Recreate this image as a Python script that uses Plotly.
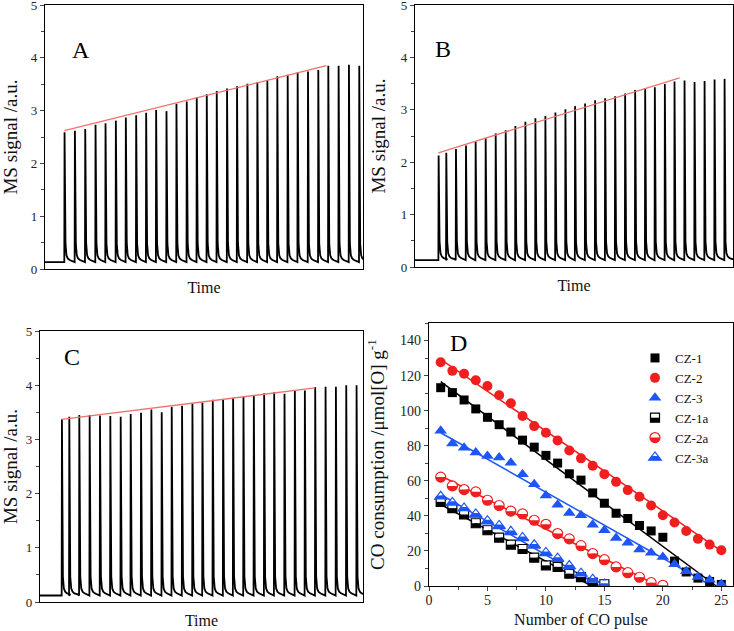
import math
import plotly.graph_objects as go

# ---------------- data: panels A-C (pulse times in arbitrary time units, peak heights) ----------
a_times = [6.07, 9.32, 12.57, 15.81, 18.95, 22.20, 25.34, 28.59, 31.73, 34.87, 38.12, 41.26, 44.50,
           47.64, 50.79, 53.93, 57.17, 60.31, 63.56, 66.70, 69.84, 72.98, 76.23, 79.37, 82.62, 85.86,
           89.01, 92.25, 95.50, 98.74]
a_peaks = [2.59, 2.62, 2.65, 2.73, 2.76, 2.81, 2.87, 2.91, 2.96, 3.01, 2.99, 3.13, 3.17, 3.25, 3.31,
           3.37, 3.42, 3.46, 3.51, 3.54, 3.58, 3.65, 3.68, 3.72, 3.74, 3.77, 3.85, 3.85, 3.87, 3.85]
a_trend_x = [6.07, 88.48]
a_trend_y = [2.62, 3.85]
a_base = 0.13

b_times = [7.35, 9.76, 12.80, 15.95, 18.99, 22.14, 25.29, 28.44, 31.48, 34.63, 37.78, 40.92, 44.07,
           47.22, 50.26, 53.41, 56.56, 59.71, 62.85, 66.00, 69.15, 72.30, 75.34, 78.49, 81.53, 84.68,
           87.83, 90.98, 94.12, 97.27]
b_peaks = [2.13, 2.18, 2.25, 2.32, 2.39, 2.46, 2.55, 2.61, 2.69, 2.77, 2.84, 2.88, 2.95, 3.01, 3.07,
           3.12, 3.18, 3.22, 3.26, 3.31, 3.38, 3.41, 3.43, 3.49, 3.54, 3.56, 3.53, 3.55, 3.58, 3.59]
b_trend_x = [7.35, 83.21]
b_trend_y = [2.18, 3.61]
b_base = 0.13

c_times = [6.71, 8.99, 12.09, 15.29, 18.49, 21.69, 24.90, 28.00, 31.20, 34.40, 37.60, 40.70, 43.90,
           47.11, 50.21, 53.41, 56.61, 59.71, 62.91, 66.12, 69.32, 72.42, 75.62, 78.82, 81.92, 85.12,
           88.33, 91.53, 94.73, 97.93]
c_peaks = [3.37, 3.42, 3.45, 3.45, 3.44, 3.43, 3.42, 3.47, 3.49, 3.55, 3.50, 3.60, 3.62, 3.66, 3.68,
           3.73, 3.74, 3.77, 3.79, 3.81, 3.85, 3.87, 3.84, 3.90, 3.90, 3.96, 3.97, 3.97, 4.00, 4.00]
c_trend_x = [6.71, 85.12]
c_trend_y = [3.37, 3.95]
c_base = 0.12

# ---------------- data: panel D --------------------------------------------------------------
pulse_25 = list(range(1, 26))
pulse_20 = list(range(1, 21))
pulse_15 = list(range(1, 16))
cz1 = [113.1, 110.3, 106.1, 101.0, 96.2, 92.0, 87.8, 83.2, 79.2, 74.5, 70.1, 64.0, 60.4, 53.1, 47.2,
       41.5, 38.5, 34.5, 31.4, 27.8, 14.2, 8.0, 4.5, 2.6, 0.9]
cz2 = [127.6, 122.7, 121.1, 117.3, 114.1, 108.8, 104.2, 97.0, 91.2, 87.4, 83.0, 77.3, 72.8, 68.6, 63.8,
       59.4, 54.7, 50.9, 45.9, 40.4, 36.2, 31.4, 26.9, 23.6, 20.4]
cz3 = [88.6, 81.3, 78.9, 76.2, 74.1, 73.3, 70.3, 63.8, 58.1, 51.6, 46.3, 41.7, 40.4, 35.0, 31.8,
       27.4, 24.6, 20.8, 18.9, 16.6, 12.4, 8.4, 5.1, 3.6, 1.1]
cz1a = [48.0, 44.4, 40.8, 35.8, 31.8, 27.6, 23.6, 21.1, 16.2, 11.8, 10.9, 7.0, 5.1, 1.9, 1.0]
cz2a = [62.1, 57.1, 55.0, 53.7, 48.9, 45.9, 42.7, 41.1, 37.5, 35.2, 29.9, 26.9, 23.0, 18.5, 15.0,
        10.9, 7.6, 5.0, 1.9, 0.4]
cz3a = [50.9, 47.4, 44.2, 40.8, 37.0, 34.3, 30.9, 27.4, 23.2, 18.9, 15.6, 11.4, 7.0, 3.6, 0.8]

fit_cz1 = ([1, 24.57], [116.6, 0])
fit_cz2 = ([1, 25], [129.3, 20.0])
fit_cz3 = ([1, 24.2], [87.4, 0])
fit_cz1a = ([1, 13.9], [46.5, 0])
fit_cz2a = ([1, 19.6], [62.9, 0])
fit_cz3a = ([1, 14.6], [52.2, 0])

# ---------------- styling ----------------------------------------------------------------
FONT = "Liberation Serif"
BLACK = "#000000"
RED = "#f01e1e"
BLUE = "#1e55f5"
TREND = "#f07070"
W, H = 734, 631

# decay profile of a pulse (time offset, height above baseline)
DECAY = [(0.3, 0.35), (0.6, 0.13), (1.0, 0.07), (1.6, 0.04), (2.6, 0.02)]


def pulse_curve(times, peaks, base, xend):
    xs, ys = [0.0], [base]
    for t, p in zip(times, peaks):
        xs += [t, t + 0.08]
        ys += [base, p]
        for dt, v in DECAY:
            xs.append(t + 0.08 + dt)
            ys.append(base + v)
    xs.append(xend)
    ys.append(base + 0.03)
    return xs, ys


fig = go.Figure()

panels = [
    ("x", "y", a_times, a_peaks, a_base, a_trend_x, a_trend_y),
    ("x2", "y2", b_times, b_peaks, b_base, b_trend_x, b_trend_y),
    ("x3", "y3", c_times, c_peaks, c_base, c_trend_x, c_trend_y),
]
for xa, ya, tt, pp, bb, tx, ty in panels:
    xs, ys = pulse_curve(tt, pp, bb, 100)
    fig.add_trace(go.Scatter(x=xs, y=ys, mode="lines", xaxis=xa, yaxis=ya, showlegend=False,
                             line=dict(color=BLACK, width=1.8), hoverinfo="skip"))
    fig.add_trace(go.Scatter(x=tx, y=ty, mode="lines", xaxis=xa, yaxis=ya, showlegend=False,
                             line=dict(color=TREND, width=1.3), hoverinfo="skip"))

# panel D fits
for (fx, fy), col in [(fit_cz1, BLACK), (fit_cz2, RED), (fit_cz3, BLUE),
                      (fit_cz1a, BLACK), (fit_cz2a, RED), (fit_cz3a, BLUE)]:
    fig.add_trace(go.Scatter(x=fx, y=fy, mode="lines", xaxis="x4", yaxis="y4", showlegend=False,
                             line=dict(color=col, width=1.5), hoverinfo="skip"))

series = [
    ("CZ-1", pulse_25, cz1, "square", BLACK, 9, False),
    ("CZ-2", pulse_25, cz2, "circle", RED, 10, False),
    ("CZ-3", pulse_25, cz3, "triangle-up", BLUE, 11, False),
    ("CZ-1a", pulse_15, cz1a, "square", BLACK, 9, True),
    ("CZ-2a", pulse_20, cz2a, "circle", RED, 10, True),
    ("CZ-3a", pulse_15, cz3a, "triangle-up", BLUE, 11, True),
]

# legend geometry (pixels): left edge, top edge, first-item offset, item pitch
LEG_LEFT, LEG_TOP, LEG_FIRST, LEG_PITCH = 635, 343, 15, 19.9


def half_path(sym, r, upper=False, inset=0.0):
    """Lower (or upper) half of a marker outline, in pixels relative to its centre (y up)."""
    s = 1 if upper else -1
    if sym == "square":
        a = r - inset
        return f"M{-a:.2f},{s * a:.2f} L{a:.2f},{s * a:.2f} L{a:.2f},0 L{-a:.2f},0 Z"
    if sym == "circle":
        a = r - inset
        pts = [(a * math.cos(math.pi + k * math.pi / 12), -s * a * math.sin(math.pi + k * math.pi / 12))
               for k in range(13)]
        return "M" + " L".join(f"{px:.2f},{py:.2f}" for px, py in pts) + " Z"
    rt = r * 2 / math.sqrt(3)
    if upper:
        return (f"M{-rt/2 + inset:.2f},{r/4:.2f} L{rt/2 - inset:.2f},{r/4:.2f} "
                f"L0,{r - 2 * inset:.2f} Z")
    return (f"M{-rt:.2f},{-r/2:.2f} L{rt:.2f},{-r/2:.2f} "
            f"L{rt/2:.2f},{r/4:.2f} L{-rt/2:.2f},{r/4:.2f} Z")


shapes = []
for idx, (name, xs, ys, sym, col, size, half) in enumerate(series):
    if half:
        marker = dict(symbol=sym, size=size, color="rgba(0,0,0,0)", line=dict(color=col, width=1.2))
    else:
        marker = dict(symbol=sym, size=size, color=col, line=dict(width=0))
    fig.add_trace(go.Scatter(x=xs, y=ys, mode="markers", name=name, xaxis="x4", yaxis="y4",
                             marker=marker))
    if half:
        r = size / 2.0
        low = half_path(sym, r)
        up = half_path(sym, r, upper=True, inset=0.9)
        for xv, yv in zip(xs, ys):
            common = dict(type="path", xref="x4", yref="y4", xsizemode="pixel",
                          ysizemode="pixel", xanchor=xv, yanchor=yv, line=dict(width=0),
                          layer="above")
            shapes.append(dict(common, path=up, fillcolor="white"))
            shapes.append(dict(common, path=low, fillcolor=col))
        # matching half fill beneath the (transparent) legend symbol
        shapes.append(dict(type="path", xref="paper", yref="paper", xsizemode="pixel",
                           ysizemode="pixel", xanchor=(LEG_LEFT + 20) / W,
                           yanchor=1 - (LEG_TOP + LEG_FIRST + idx * LEG_PITCH) / H,
                           path=low, fillcolor=col, line=dict(width=0), layer="above"))


def px_dom(a, b, total):
    return [a / total, b / total]


def ydom(top, bottom):
    return [1 - bottom / H, 1 - top / H]


tickfont = dict(family=FONT, size=13, color="#222")
tickfont_d = dict(family=FONT, size=14, color="#222")
xtitlefont = dict(family=FONT, size=16, color="#111")
ytitlefont = dict(family=FONT, size=19, color="#111")
common_line = dict(showline=True, linecolor=BLACK, linewidth=1.2, mirror=True, showgrid=False,
                   zeroline=False, automargin=False, ticklabeloverflow="allow")

time_axis = dict(common_line, range=[0, 100], ticks="", showticklabels=False,
                 title=dict(text="Time", font=xtitlefont, standoff=12))
ms_axis = dict(common_line, range=[0, 5], dtick=1, ticks="outside", ticklen=4, tickwidth=1,
               tickfont=tickfont, minor=dict(dtick=0.5, ticks="outside", ticklen=2.5),
               title=dict(text="MS signal /a.u.", font=ytitlefont, standoff=10))

fig.update_layout(
    width=W, height=H, margin=dict(l=0, r=0, t=0, b=0),
    plot_bgcolor="white", paper_bgcolor="white",
    font=dict(family=FONT),
    xaxis=dict(time_axis, domain=px_dom(45, 363, W), anchor="y"),
    yaxis=dict(ms_axis, domain=ydom(5, 269), anchor="x"),
    xaxis2=dict(time_axis, domain=px_dom(415, 733, W), anchor="y2"),
    yaxis2=dict(ms_axis, domain=ydom(5, 267), anchor="x2"),
    xaxis3=dict(time_axis, domain=px_dom(40, 363, W), anchor="y3"),
    yaxis3=dict(ms_axis, domain=ydom(331, 602), anchor="x3"),
    xaxis4=dict(common_line, domain=px_dom(429, 733, W), anchor="y4", range=[0, 26], dtick=5,
                ticks="outside", ticklen=4, tickfont=tickfont_d, ticklabelstandoff=-3,
                minor=dict(dtick=2.5, ticks="outside", ticklen=2.5),
                title=dict(text="Number of CO pulse", font=xtitlefont, standoff=6)),
    yaxis4=dict(common_line, domain=ydom(323, 586), anchor="x4", range=[0, 150], dtick=20,
                ticks="outside", ticklen=4, tickfont=tickfont_d,
                minor=dict(dtick=10, ticks="outside", ticklen=2.5),
                title=dict(text="CO consumption /μmol[O] g<sup>-1</sup>", font=ytitlefont, standoff=10)),
    legend=dict(x=LEG_LEFT / W, y=1 - LEG_TOP / H, xanchor="left", yanchor="top",
                bgcolor="rgba(0,0,0,0)", font=dict(family=FONT, size=13, color="#111"),
                tracegroupgap=0),
    shapes=shapes,
    annotations=[
        dict(text=t, x=x / W, y=1 - y / H, xref="paper", yref="paper", showarrow=False,
             font=dict(family=FONT, size=24, color=BLACK))
        for t, x, y in [("A", 70, 35), ("B", 443, 34), ("C", 62, 357), ("D", 458, 343)]
    ],
)

fig.write_html("out.html", config={"displayModeBar": False},
               post_script="document.body.style.margin='0';"
               "document.body.style.overflow='hidden';")
